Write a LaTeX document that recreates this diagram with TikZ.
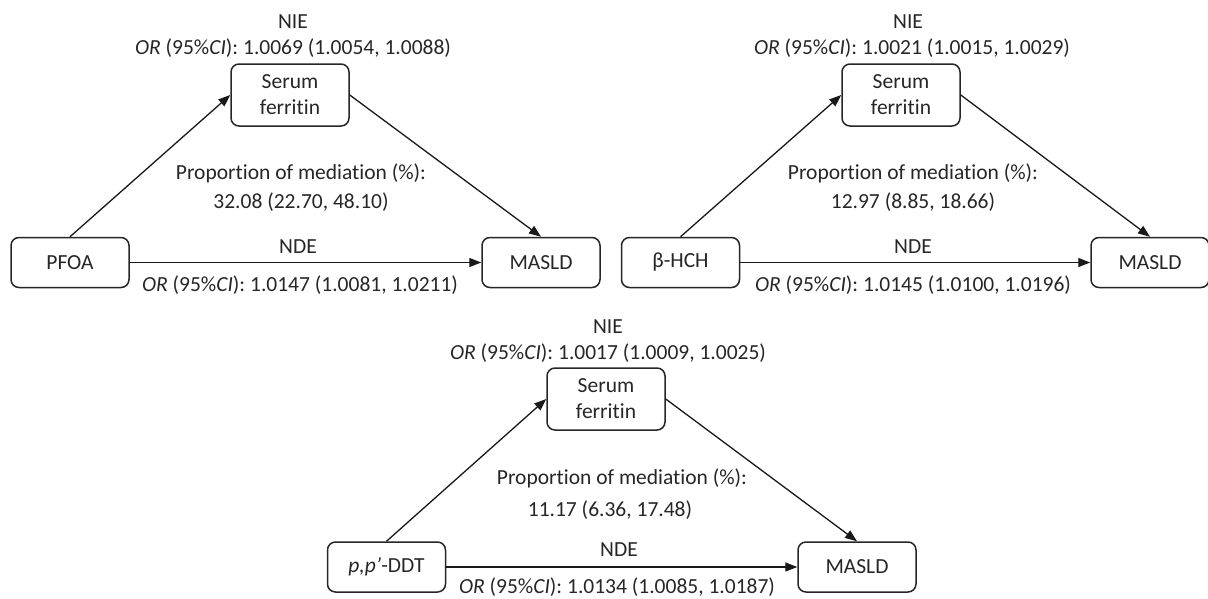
\documentclass[tikz,border=0pt]{standalone}
\usepackage{fontspec}
\setmainfont{Carlito}[Ligatures={TeX,NoCommon}]
\usetikzlibrary{arrows.meta}
\newcommand\myfs{\fontsize{21.5}{26}\selectfont}
\begin{document}
\begin{tikzpicture}[x=1pt,y=-1pt,
  box/.style={draw=black!85, line width=1.5pt, rounded corners=8pt, minimum width=118pt, minimum height=50pt, align=center, inner sep=0pt, font=\myfs, text=black!85},
  sfbox/.style={box, minimum height=62pt},
  lbl/.style={inner sep=0pt, font=\myfs, text=black!85},
  arr/.style={draw=black!90, line width=1.3pt, -{Triangle[length=12pt,width=9pt]}}]
\useasboundingbox (0,0) rectangle (1208,598);
% Panel 1
\node[box] (x1) at (70,262.5) {PFOA};
\node[box] (y1) at (541,262.5) {MASLD};
\node[sfbox] (m1) at (290,95) {Serum\\ferritin};
\node[lbl] (nie1) at (293,22) {NIE};
\node[lbl] (ornie1) at (293,48) {\textit{OR} (95\%\textit{CI}): 1.0069 (1.0054, 1.0088)};
\node[lbl] (prop1) at (301,173) {Proportion of mediation (\%):};
\node[lbl] (val1) at (301,202) {32.08 (22.70, 48.10)};
\node[lbl] (nde1) at (298,247) {NDE};
\node[lbl] (ornde1) at (300,285) {\textit{OR} (95\%\textit{CI}): 1.0147 (1.0081, 1.0211)};
\draw[arr] (x1.north) -- (m1.west);
\draw[arr] (m1.east) -- (y1.north);
\draw[arr] (x1.east) -- (y1.west);
% Panel 2
\node[box] (x2) at (680.5,262.5) {β-HCH};
\node[box] (y2) at (1150,262.5) {MASLD};
\node[sfbox] (m2) at (901,95) {Serum\\ferritin};
\node[lbl] (nie2) at (908,22) {NIE};
\node[lbl] (ornie2) at (912,48) {\textit{OR} (95\%\textit{CI}): 1.0021 (1.0015, 1.0029)};
\node[lbl] (prop2) at (913,173) {Proportion of mediation (\%):};
\node[lbl] (val2) at (913,202) {12.97 (8.85, 18.66)};
\node[lbl] (nde2) at (913,247) {NDE};
\node[lbl] (ornde2) at (913,285) {\textit{OR} (95\%\textit{CI}): 1.0145 (1.0100, 1.0196)};
\draw[arr] (x2.north) -- (m2.west);
\draw[arr] (m2.east) -- (y2.north);
\draw[arr] (x2.east) -- (y2.west);
% Panel 3
\node[box] (x3) at (386.5,567) {\textit{p,p'}-DDT};
\node[box] (y3) at (857,567) {MASLD};
\node[sfbox] (m3) at (606,399) {Serum\\ferritin};
\node[lbl] (nie3) at (608,327) {NIE};
\node[lbl] (ornie3) at (608,353) {\textit{OR} (95\%\textit{CI}): 1.0017 (1.0009, 1.0025)};
\node[lbl] (prop3) at (622,478) {Proportion of mediation (\%):};
\node[lbl] (val3) at (610,510) {11.17 (6.36, 17.48)};
\node[lbl] (nde3) at (619,550) {NDE};
\node[lbl] (ornde3) at (617,587) {\textit{OR} (95\%\textit{CI}): 1.0134 (1.0085, 1.0187)};
\draw[arr] (x3.north) -- (m3.west);
\draw[arr] (m3.east) -- (y3.north);
\draw[arr] (x3.east) -- (y3.west);
\end{tikzpicture}
\end{document}
